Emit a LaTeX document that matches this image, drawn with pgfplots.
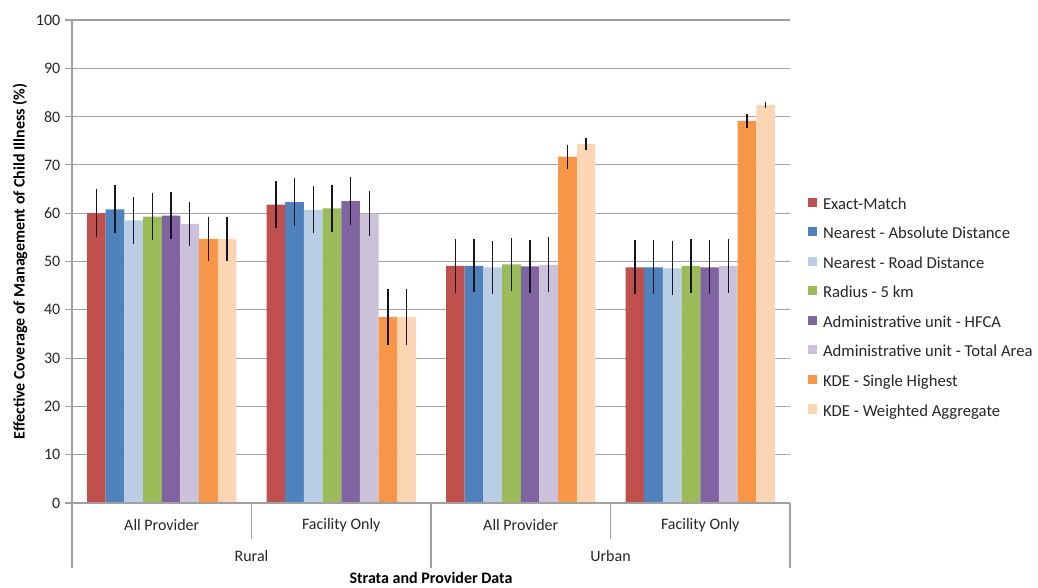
\documentclass[border=0pt]{standalone}
\usepackage{pgfplots}
\pgfplotsset{compat=1.18}
\usepackage{fontspec}
\setmainfont{Carlito}
\definecolor{c1}{HTML}{C0504D}
\definecolor{c2}{HTML}{4F81BD}
\definecolor{c3}{HTML}{B9CDE5}
\definecolor{c4}{HTML}{9BBB59}
\definecolor{c5}{HTML}{8064A2}
\definecolor{c6}{HTML}{CCC1DA}
\definecolor{c7}{HTML}{F79646}
\definecolor{c8}{HTML}{FCD5B5}
\definecolor{axgray}{HTML}{A0A0A0}
\definecolor{errc}{HTML}{15151F}
\begin{document}
\begin{tikzpicture}
\path[use as bounding box] (-54pt,-63pt) rectangle (724.5pt,377.25pt);
\begin{axis}[name=ax, at={(0,0)}, anchor=south west,
  scale only axis, width=538.5pt, height=362.25pt,
  xmin=-0.5, xmax=3.5, ymin=0, ymax=100,
  ytick={0,10,...,100},
  xtick={0,1,2,3},
  xticklabels={All Provider, Facility Only, All Provider, Facility Only},
  xtick style={draw=none},
  xticklabel style={anchor=center, yshift=-11.25pt, font=\fontsize{12}{14}\selectfont, text=black!85},
  yticklabel style={font=\fontsize{12}{14}\selectfont, text=black!85},
  xtick pos=bottom, ytick pos=left,
  axis line style={draw=none},
  ytick style={draw=axgray, line width=0.8pt},
  tick align=outside, major tick length=5.25pt,
  ybar=0pt, bar width=0.104,
  clip=false,
  /pgf/number format/assume math mode=true,
  legend cell align=left,
  legend image code/.code={\draw[#1,draw=none] (0pt,-0.8pt) rectangle (6.8pt,6pt);},
  legend style={at={(axis description cs:1,0.403)}, anchor=west, xshift=13.5pt,
    draw=none, fill=none, inner sep=0pt, outer sep=0pt,
    font=\fontsize{12.5}{14}\selectfont, text=black!85,
    row sep=11.3pt, column sep=4.5pt,
    nodes={inner sep=0pt, text height=7.5pt, text depth=2.2pt}},
  every axis plot/.append style={draw=none,
    error bars/y dir=both, error bars/y explicit,
    error bars/error bar style={errc, line width=1pt}, error bars/error mark=none},
]
\pgfplotsinvokeforeach{10,20,30,40,50,60,70,80,90,100}{
  \draw[axgray, line width=0.8pt] (axis cs:-0.5,#1) -- (axis cs:3.5,#1);
}
\addplot[fill=c1] coordinates {(0,60.0) +- (0,5.0) (1,61.8) +- (0,4.9) (2,49.1) +- (0,5.6) (3,48.8) +- (0,5.6)};
\addplot[fill=c2] coordinates {(0,60.8) +- (0,5.0) (1,62.3) +- (0,5.0) (2,49.1) +- (0,5.5) (3,48.8) +- (0,5.6)};
\addplot[fill=c3] coordinates {(0,58.5) +- (0,4.8) (1,60.7) +- (0,4.9) (2,48.8) +- (0,5.5) (3,48.6) +- (0,5.6)};
\addplot[fill=c4] coordinates {(0,59.3) +- (0,4.8) (1,61.0) +- (0,4.9) (2,49.4) +- (0,5.5) (3,49.1) +- (0,5.6)};
\addplot[fill=c5] coordinates {(0,59.5) +- (0,4.8) (1,62.5) +- (0,5.0) (2,49.0) +- (0,5.5) (3,48.8) +- (0,5.6)};
\addplot[fill=c6] coordinates {(0,57.8) +- (0,4.6) (1,59.9) +- (0,4.7) (2,49.3) +- (0,5.7) (3,49.1) +- (0,5.6)};
\addplot[fill=c7] coordinates {(0,54.7) +- (0,4.6) (1,38.5) +- (0,5.8) (2,71.7) +- (0,2.5) (3,79.1) +- (0,1.4)};
\addplot[fill=c8] coordinates {(0,54.7) +- (0,4.6) (1,38.5) +- (0,5.8) (2,74.3) +- (0,1.3) (3,82.4) +- (0,0.7)};
\legend{Exact-Match, Nearest - Absolute Distance, Nearest - Road Distance, Radius - 5 km, Administrative unit - HFCA, Administrative unit - Total Area, KDE - Single Highest, KDE - Weighted Aggregate}
\draw[axgray, line width=0.8pt] (rel axis cs:0,1) -- (rel axis cs:0,0) -- (rel axis cs:1,0);
\draw[axgray, line width=0.8pt] (axis cs:-0.5,0) -- ++(0pt,-48.75pt);
\draw[axgray, line width=0.8pt] (axis cs:1.5,0) -- ++(0pt,-48.75pt);
\draw[axgray, line width=0.8pt] (axis cs:3.5,0) -- ++(0pt,-48.75pt);
\draw[axgray, line width=0.8pt] (axis cs:0.5,0) -- ++(0pt,-27pt);
\draw[axgray, line width=0.8pt] (axis cs:2.5,0) -- ++(0pt,-27pt);
\node[font=\fontsize{12}{14}\selectfont, text=black!85] at (axis cs:0.5,0) [yshift=-39.75pt] {Rural};
\node[font=\fontsize{12}{14}\selectfont, text=black!85] at (axis cs:2.5,0) [yshift=-39.75pt] {Urban};
\end{axis}
\node[rotate=90, font=\bfseries\fontsize{12}{14}\selectfont] at ([xshift=-39pt]ax.west) {Effective Coverage of Management of Child Illness (\%)};
\node[font=\bfseries\fontsize{12}{14}\selectfont] at ([yshift=-56pt]ax.south) {Strata and Provider Data};
\end{tikzpicture}
\end{document}
